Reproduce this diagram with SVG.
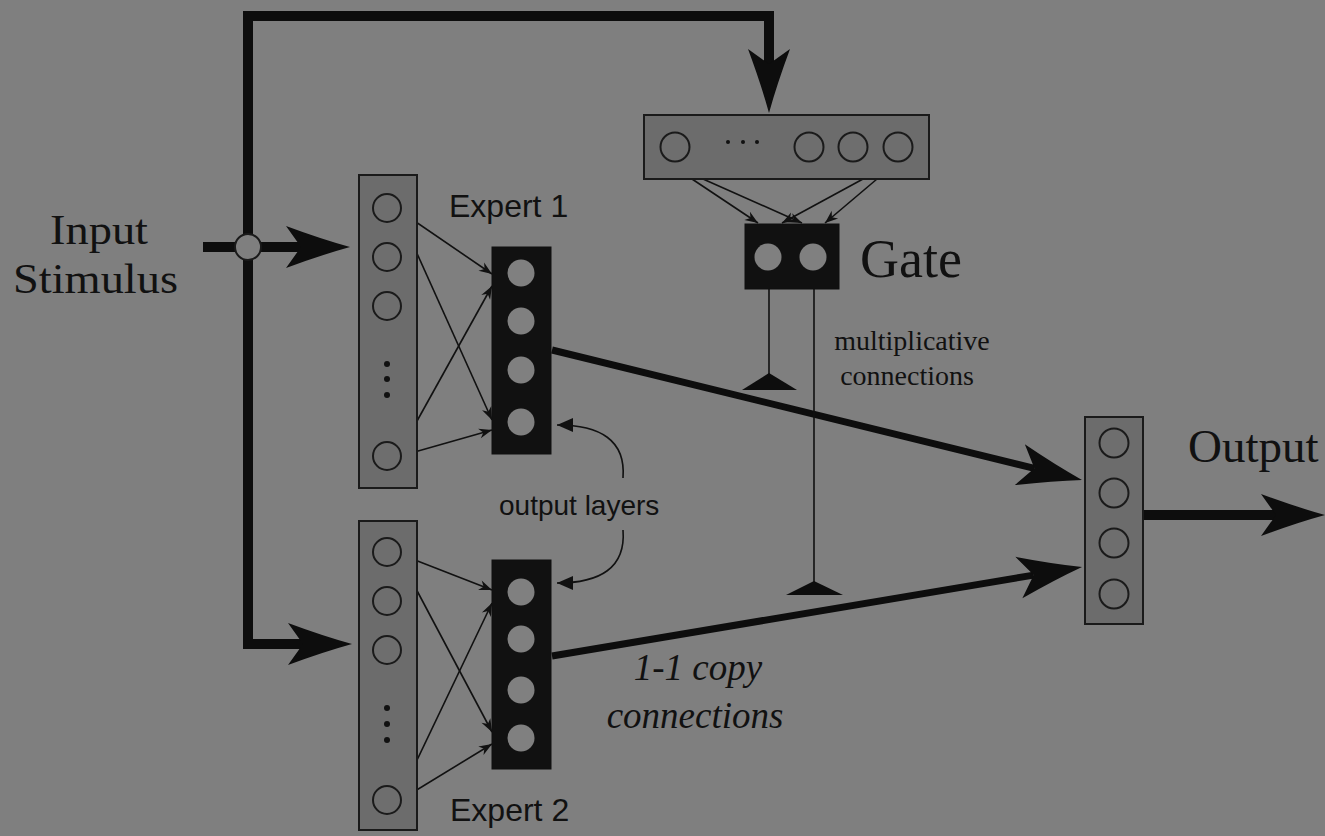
<svg xmlns="http://www.w3.org/2000/svg" width="1325" height="836" viewBox="0 0 1325 836">
<defs>
<style>
.bg{fill:#7f7f7f}
.layer{fill:#6c6c6c;stroke:#1a1a1a;stroke-width:2}
.olayer{fill:#111111;stroke:#111111;stroke-width:1}
.unit{fill:#6e6e6e;stroke:#1a1a1a;stroke-width:2}
.ounit{fill:#808080;stroke:none}
.dot{fill:#111111}
.thick{fill:none;stroke:#0d0d0d;stroke-width:10;stroke-linejoin:miter}
.mid{fill:none;stroke:#0d0d0d;stroke-width:7}
.thin{fill:none;stroke:#111111;stroke-width:1.6}
.tri{fill:#0d0d0d}
.serif{font-family:"Liberation Serif","Times New Roman",serif;fill:#111111}
.sans{font-family:"Liberation Sans",Arial,sans-serif;fill:#111111}
</style>
<marker id="bigArrow" viewBox="-16 -22 66 44" refX="0" refY="0" markerWidth="66" markerHeight="44" markerUnits="userSpaceOnUse" orient="auto">
<path d="M49,0 Q20,-8 -15,-21 L0,0 L-15,21 Q20,8 49,0 Z" fill="#0d0d0d"/>
</marker>
<marker id="smallArrow" viewBox="-14 -6 15 12" refX="0" refY="0" markerWidth="15" markerHeight="12" markerUnits="userSpaceOnUse" orient="auto">
<path d="M0,0 L-13,-5 L-9,0 L-13,5 Z" fill="#111111"/>
</marker>
<marker id="curveArrow" viewBox="-17 -8 18 16" refX="0" refY="0" markerWidth="18" markerHeight="16" markerUnits="userSpaceOnUse" orient="auto">
<path d="M0,0 L-16,-7 L-16,7 Z" fill="#111111"/>
</marker>
</defs>
<rect class="bg" x="0" y="0" width="1325" height="836"/>

<g id="connectors">
<!-- input stimulus paths -->
<line class="thick" x1="203" y1="247" x2="301" y2="247" marker-end="url(#bigArrow)"/>
<path class="thick" d="M248,247 L248,16 L769,16 L769,64" marker-end="url(#bigArrow)"/>
<path class="thick" d="M248,247 L248,644 L303,644" marker-end="url(#bigArrow)"/>
<!-- expert outputs to output layer -->
<line class="mid" x1="552" y1="350" x2="1034.4" y2="468.3" marker-end="url(#bigArrow)"/>
<line class="mid" x1="552" y1="656" x2="1033.7" y2="575.1" marker-end="url(#bigArrow)"/>
<!-- output -->
<line class="thick" x1="1143" y1="515" x2="1276" y2="515" marker-end="url(#bigArrow)"/>
<!-- expert 1 weights -->
<line class="thin" x1="397" y1="209" x2="492" y2="274" marker-end="url(#smallArrow)"/>
<line class="thin" x1="397" y1="209" x2="492" y2="420" marker-end="url(#smallArrow)"/>
<line class="thin" x1="397" y1="457" x2="492" y2="286" marker-end="url(#smallArrow)"/>
<line class="thin" x1="397" y1="457" x2="492" y2="430" marker-end="url(#smallArrow)"/>
<!-- expert 2 weights -->
<line class="thin" x1="397" y1="553" x2="492" y2="590" marker-end="url(#smallArrow)"/>
<line class="thin" x1="397" y1="553" x2="492" y2="732" marker-end="url(#smallArrow)"/>
<line class="thin" x1="397" y1="802" x2="492" y2="603" marker-end="url(#smallArrow)"/>
<line class="thin" x1="397" y1="802" x2="492" y2="744" marker-end="url(#smallArrow)"/>
<!-- gate weights -->
<line class="thin" x1="692" y1="179" x2="758" y2="223" marker-end="url(#smallArrow)"/>
<line class="thin" x1="703" y1="179" x2="802" y2="223" marker-end="url(#smallArrow)"/>
<line class="thin" x1="863" y1="179" x2="782" y2="223" marker-end="url(#smallArrow)"/>
<line class="thin" x1="877" y1="179" x2="825" y2="223" marker-end="url(#smallArrow)"/>
<!-- multiplicative connections -->
<line class="thin" x1="769" y1="289" x2="769" y2="376"/>
<polygon class="tri" points="769,373 797,390 742,390"/>
<line class="thin" x1="814" y1="289" x2="814" y2="583"/>
<polygon class="tri" points="814,581 843,595 786,595"/>
<!-- output layers callouts -->
<path class="thin" d="M623,478 C626,440 600,425 557,425" marker-end="url(#curveArrow)"/>
<path class="thin" d="M623,530 C626,568 600,583 557,583" marker-end="url(#curveArrow)"/>
</g>

<g id="junction">
<circle cx="248" cy="247" r="13" fill="#7f7f7f" stroke="#1a1a1a" stroke-width="2"/>
</g>

<g id="expert1-input">
<rect class="layer" x="359" y="175" width="58" height="313"/>
<circle class="unit" cx="387" cy="208" r="14"/>
<circle class="unit" cx="387" cy="257" r="14"/>
<circle class="unit" cx="387" cy="306" r="14"/>
<circle class="dot" cx="387" cy="364" r="3"/>
<circle class="dot" cx="387" cy="379" r="3"/>
<circle class="dot" cx="387" cy="395" r="3"/>
<circle class="unit" cx="387" cy="456" r="14"/>
</g>

<g id="expert1-output">
<rect class="olayer" x="492" y="247" width="59" height="207"/>
<circle class="ounit" cx="521" cy="273" r="13.5"/>
<circle class="ounit" cx="521" cy="321" r="13.5"/>
<circle class="ounit" cx="521" cy="370" r="13.5"/>
<circle class="ounit" cx="521" cy="422" r="13.5"/>
</g>

<g id="expert2-input">
<rect class="layer" x="359" y="521" width="58" height="309"/>
<circle class="unit" cx="387" cy="552" r="14"/>
<circle class="unit" cx="387" cy="601" r="14"/>
<circle class="unit" cx="387" cy="650" r="14"/>
<circle class="dot" cx="387" cy="708" r="3"/>
<circle class="dot" cx="387" cy="724" r="3"/>
<circle class="dot" cx="387" cy="740" r="3"/>
<circle class="unit" cx="387" cy="800" r="14"/>
</g>

<g id="expert2-output">
<rect class="olayer" x="492" y="560" width="59" height="209"/>
<circle class="ounit" cx="521" cy="592" r="13.5"/>
<circle class="ounit" cx="521" cy="639" r="13.5"/>
<circle class="ounit" cx="521" cy="690" r="13.5"/>
<circle class="ounit" cx="521" cy="738" r="13.5"/>
</g>

<g id="gate-input">
<rect class="layer" x="644" y="115" width="285" height="64"/>
<circle class="unit" cx="675" cy="147" r="14.5"/>
<circle class="dot" cx="728" cy="142" r="2"/>
<circle class="dot" cx="743" cy="142" r="2"/>
<circle class="dot" cx="757" cy="142" r="2"/>
<circle class="unit" cx="809" cy="147" r="14.5"/>
<circle class="unit" cx="853" cy="147" r="14.5"/>
<circle class="unit" cx="898" cy="147" r="14.5"/>
</g>

<g id="gate">
<rect class="olayer" x="745" y="224" width="94" height="65"/>
<circle class="ounit" cx="768" cy="257" r="13.5"/>
<circle class="ounit" cx="813" cy="257" r="13.5"/>
</g>

<g id="output-layer">
<rect class="layer" x="1085" y="417" width="58" height="207"/>
<circle class="unit" cx="1114" cy="443" r="14.5"/>
<circle class="unit" cx="1114" cy="493" r="14.5"/>
<circle class="unit" cx="1114" cy="543" r="14.5"/>
<circle class="unit" cx="1114" cy="594" r="14.5"/>
</g>

<g id="labels">
<text class="serif" x="50" y="244" font-size="42" textLength="98" lengthAdjust="spacingAndGlyphs">Input</text>
<text class="serif" x="13" y="293" font-size="42" textLength="165" lengthAdjust="spacingAndGlyphs">Stimulus</text>
<text class="sans" x="449" y="217" font-size="32">Expert 1</text>
<text class="sans" x="450" y="821" font-size="32">Expert 2</text>
<text class="serif" x="860" y="277" font-size="54">Gate</text>
<text class="serif" x="912" y="350" font-size="28" text-anchor="middle">multiplicative</text>
<text class="serif" x="907" y="385" font-size="28" text-anchor="middle">connections</text>
<text class="serif" x="1188" y="462" font-size="47">Output</text>
<text class="sans" x="499" y="515" font-size="28">output layers</text>
<text class="serif" x="698" y="680" font-size="37" font-style="italic" text-anchor="middle">1-1 copy</text>
<text class="serif" x="695" y="728" font-size="37" font-style="italic" text-anchor="middle">connections</text>
</g>
</svg>
